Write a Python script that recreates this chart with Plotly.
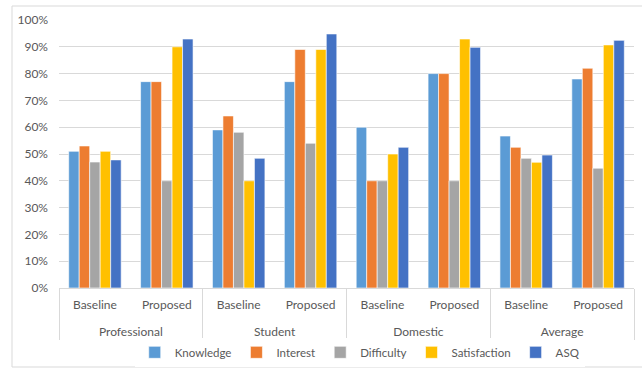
import plotly.graph_objects as go

groups = ["Professional", "Student", "Domestic", "Average"]
conditions = ["Baseline", "Proposed"]
series_names = ["Knowledge", "Interest", "Difficulty", "Satisfaction", "ASQ"]
colors = ["#5B9BD5", "#ED7D31", "#A5A5A5", "#FFC000", "#4472C4"]

# values in %, order: Prof-Base, Prof-Prop, Stud-Base, Stud-Prop, Dom-Base, Dom-Prop, Avg-Base, Avg-Prop
knowledge = [51, 77, 59, 77, 60, 80, 56.7, 78]
interest = [53, 77, 64.2, 89, 40, 80, 52.5, 82]
difficulty = [47, 40, 58.1, 54, 40, 40, 48.4, 44.7]
satisfaction = [51, 90, 40, 89, 50, 92.9, 46.9, 90.7]
asq = [47.8, 92.9, 48.4, 94.8, 52.5, 89.8, 49.6, 92.4]
values = [knowledge, interest, difficulty, satisfaction, asq]

x_outer = ["<br>" + g for g in groups for _ in conditions]
x_inner = [c for _ in groups for c in conditions]

fig = go.Figure()
for name, col, vals in zip(series_names, colors, values):
    fig.add_trace(go.Bar(
        x=[x_outer, x_inner], y=[v / 100 for v in vals], name=name,
        marker=dict(color=col, line=dict(color="white", width=0.6)),
    ))

font = dict(family="Lato, Liberation Sans, sans-serif", size=12, color="#595959")
fig.update_layout(
    width=642, height=368,
    margin=dict(l=59, r=8, t=20, b=80, autoexpand=False),
    paper_bgcolor="white", plot_bgcolor="white",
    barmode="group", bargap=0.27, bargroupgap=0,
    font=font,
    showlegend=True,
    legend=dict(orientation="h", x=0.523, xanchor="center", y=-0.24, yanchor="middle",
                font=dict(family="Lato, Liberation Sans, sans-serif", size=11.5, color="#595959"),
                itemwidth=30, tracegroupgap=0),
    xaxis=dict(type="multicategory", showline=True, linecolor="#D9D9D9", linewidth=1,
               showdividers=True, dividercolor="#D9D9D9", dividerwidth=1,
               ticks="", tickfont=font, showgrid=False, ticklabelstandoff=6),
    yaxis=dict(range=[0, 1.0], dtick=0.1, tickformat=".0%", showgrid=True,
               gridcolor="#D9D9D9", gridwidth=1, zeroline=False, showline=False,
               tickfont=font, ticklabelstandoff=10),
    shapes=[dict(type="rect", xref="paper", yref="paper",
                 x0=(12 - 59) / 575, x1=(660 - 59) / 575,
                 y0=(288 - 367) / 268, y1=(288 - 6) / 268,
                 line=dict(color="#D9D9D9", width=1), fillcolor="rgba(0,0,0,0)", layer="below")],
)

fig.write_html("out.html")
